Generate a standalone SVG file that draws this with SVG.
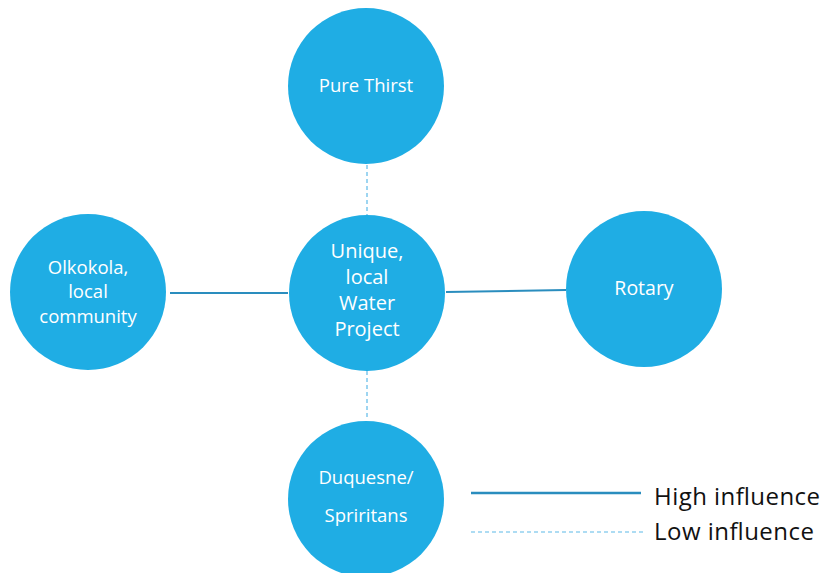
<svg xmlns="http://www.w3.org/2000/svg" width="823" height="573" viewBox="0 0 823 573">
<style>
.node{fill:#1FADE4;}
.lbl{fill:#ffffff;font-family:"Open Sans","Liberation Sans",sans-serif;font-size:18.5px;text-anchor:middle;}
.big{font-size:20px;}
.high{stroke:#2A8DBE;stroke-width:2;fill:none;}
.low{stroke:#5DB9E8;stroke-width:1.2;stroke-dasharray:4,3;fill:none;}
.leg{fill:#111111;font-family:"Open Sans","Liberation Sans",sans-serif;font-size:24px;}
</style>
<rect width="823" height="573" fill="#ffffff"/>
<g id="connectors">
<line class="low" x1="367" y1="165" x2="367" y2="215"/>
<line class="low" x1="367" y1="371" x2="367" y2="420"/>
<line class="high" x1="170" y1="293" x2="288" y2="293"/>
<line class="high" x1="446" y1="292" x2="566" y2="290"/>
</g>
<g id="pure-thirst">
<circle class="node" cx="366" cy="86" r="78"/>
<text class="lbl" x="366" y="92">Pure Thirst</text>
</g>
<g id="water-project">
<circle class="node" cx="367" cy="293" r="78"/>
<text class="lbl big" x="367" y="258">Unique,</text>
<text class="lbl big" x="367" y="284">local</text>
<text class="lbl big" x="367" y="310">Water</text>
<text class="lbl big" x="367" y="336">Project</text>
</g>
<g id="olkokola">
<circle class="node" cx="88" cy="292" r="78"/>
<text class="lbl" x="88" y="274">Olkokola,</text>
<text class="lbl" x="88" y="298">local</text>
<text class="lbl" x="88" y="323">community</text>
</g>
<g id="rotary">
<circle class="node" cx="644" cy="289" r="78"/>
<text class="lbl" x="644" y="295" style="font-size:19.5px">Rotary</text>
</g>
<g id="duquesne">
<circle class="node" cx="366" cy="499" r="78"/>
<text class="lbl" x="366" y="484">Duquesne/</text>
<text class="lbl" x="366" y="522">Spriritans</text>
</g>
<g id="legend">
<line class="high" x1="471" y1="493" x2="641" y2="493" style="stroke-width:2.5"/>
<line class="low" x1="471" y1="532" x2="643" y2="532"/>
<text class="leg" x="654" y="505" textLength="166" lengthAdjust="spacing">High influence</text>
<text class="leg" x="654" y="540" textLength="160" lengthAdjust="spacing">Low influence</text>
</g>
</svg>
